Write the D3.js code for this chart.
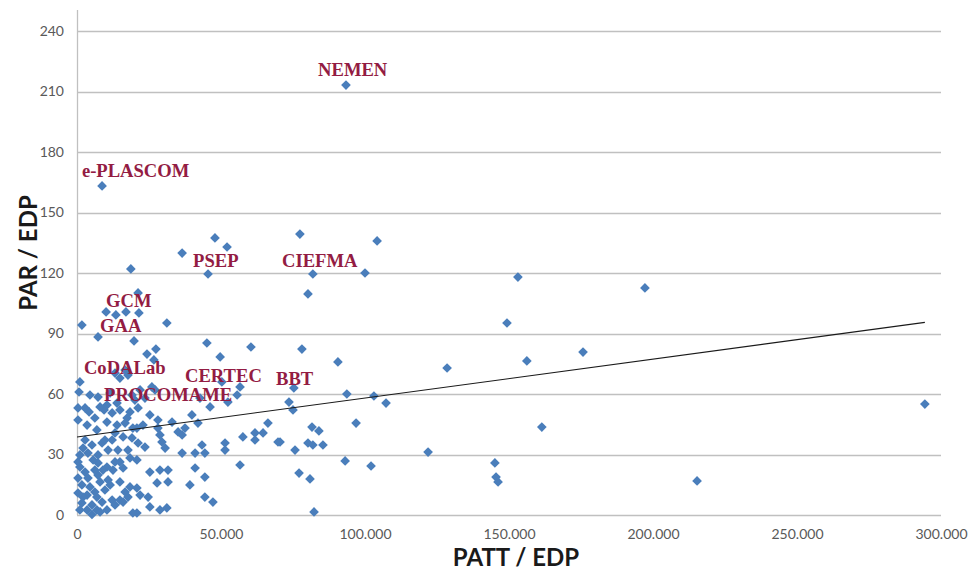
<!DOCTYPE html>
<html>
<head>
<meta charset="utf-8">
<script src="https://cdn.jsdelivr.net/npm/d3@7"></script>
<style>
  html, body { margin: 0; padding: 0; background: #ffffff; }
  svg { display: block; }
</style>
</head>
<body>
<svg id="chart" width="969" height="573"></svg>
<script>
// ---------- DATA ----------
const xTicks = [0, 50000, 100000, 150000, 200000, 250000, 300000];
const yTicks = [0, 30, 60, 90, 120, 150, 180, 210, 240];
const xTitle = "PATT / EDP";
const yTitle = "PAR / EDP";

// PATT / EDP values of each point
const pattValues = [
  93400, 8700, 36500, 47900, 52100, 45500, 18700, 77400, 104200, 81900, 100000, 80200,
  153100, 197200, 149300, 175700, 156200, 128500, 90600, 78100, 60400, 49700, 45100, 31200,
  1700, 7300, 10100, 13500, 17000, 21500, 21200, 19800, 24300, 27400, 26700, 294400,
  161400, 215300, 121900,
  75300, 73600, 75000, 93700, 103100, 107300, 96900, 81600, 84000, 80200, 81900, 85400,
  70500, 75700, 93100, 102100, 77100, 80900, 145100, 145500, 146200, 82300,
  50300, 56600, 55600, 46200, 52400, 42700, 66300, 57600, 61800, 64600, 69800, 61800,
  51400, 51400, 56600, 47200,
  21200, 25300, 28100, 33000, 39900, 42000, 20800, 28100, 35100, 37500, 36500, 21200,
  23600, 28800, 29500, 30600, 36500, 41000, 43400, 44400, 20800, 25300, 28800, 31600,
  41000, 27800, 31600, 39200, 44400, 20800, 21900, 24700, 44400, 25300, 28800, 31200, 20800,
  4200, 350, 9400, 12200, 14900, 18400, 10400, 13900, 16700, 19400, 3500, 6900,
  2800, 5200, 8700, 12200, 16000, 19100, 3800, 7300, 10800, 14200, 18400, 13200,
  1000, 2800, 7300, 10400, 12500, 16000, 350, 3800, 7300, 10800, 14900, 18400,
  1700, 4500, 9700, 16700, 350, 3500, 6900, 12200, 14900, 1700, 5200, 8700,
  16000, 3500, 6900, 10400, 19400, 5200,
  1000, 700, 4500, 7300, 14900, 16700, 13200, 17700, 10400, 13900, 21900, 23600,
  26000, 19100, 27100, 350,
  1000, 350, 2100, 6200, 8000, 2100, 6200, 1000, 8000, 13200, 17700, 11500,
  5600, 9000, 14900, 17700, 6200, 13200, 9700, 17400, 20100, 11500, 8000, 2800, 22900
];
// PAR / EDP values of each point (same order)
const parValues = [
  213.2, 163.2, 129.9, 137.4, 132.9, 119.5, 122.0, 139.3, 135.9, 119.5, 120.0, 109.6,
  118.0, 112.6, 95.2, 80.8, 76.4, 72.9, 75.9, 82.3, 83.3, 78.4, 85.3, 95.2,
  94.2, 88.3, 100.7, 99.2, 100.7, 100.2, 110.1, 86.3, 79.8, 82.3, 76.9, 55.0,
  43.6, 16.9, 31.2,
  63.0, 56.0, 52.1, 60.0, 59.0, 55.5, 45.6, 43.6, 41.7, 35.7, 34.7, 34.7,
  36.2, 32.2, 26.8, 24.3, 20.8, 17.9, 25.8, 18.8, 16.4, 1.5,
  66.0, 63.5, 59.5, 53.6, 56.0, 58.0, 45.6, 38.7, 40.7, 40.7, 36.2, 37.2,
  35.7, 32.2, 24.8, 6.4,
  53.1, 49.6, 47.1, 46.1, 49.6, 45.6, 43.1, 43.1, 41.2, 43.1, 39.7, 35.7,
  33.7, 39.7, 36.2, 33.2, 30.7, 30.7, 34.7, 30.7, 27.3, 21.3, 22.3, 22.3,
  23.3, 15.9, 16.4, 14.9, 18.8, 13.4, 9.9, 8.9, 8.9, 4.0, 2.5, 3.5, 1.0,
  51.1, 47.1, 52.1, 50.6, 52.1, 51.1, 46.1, 44.6, 45.6, 43.1, 44.6, 42.2,
  37.2, 34.7, 35.7, 37.2, 38.7, 38.2, 30.7, 29.8, 32.2, 32.2, 28.3, 26.3,
  23.8, 21.3, 25.8, 23.8, 22.3, 23.3, 18.3, 18.3, 19.8, 17.4, 16.4, 13.9,
  14.9, 13.9, 12.4, 11.4, 10.9, 9.9, 8.9, 7.4, 7.4, 6.0, 5.0, 6.4,
  6.4, 2.5, 2.5, 2.5, 1.0, 0.3,
  66.0, 61.0, 59.5, 58.5, 67.9, 71.9, 70.4, 69.4, 54.5, 55.5, 62.0, 58.0,
  63.5, 59.5, 62.0, 53.1,
  29.8, 26.3, 33.2, 22.3, 16.4, 8.9, 11.4, 2.5, 1.5, 5.0, 8.9, 14.9,
  27.3, 22.3, 26.3, 32.2, 48.1, 40.7, 37.2, 48.1, 57.0, 60.5, 53.6, 53.1, 44.6
];

// Linear trend line: PAR = intercept + slope * PATT
const trendIntercept = 38.7;
const trendSlope = 0.000193;
const trendEndX = 294400;

// Group labels, anchored in data units (text start, baseline)
const labelNames = ["NEMEN", "e-PLASCOM", "PSEP", "CIEFMA", "GCM", "GAA", "CoDALab", "CERTEC", "PROCOMAME", "BBT"];
const labelX = [83700, 1700, 40300, 71200, 10100, 8000, 2400, 37500, 9400, 69100];
const labelY = [217.6, 167.6, 123.0, 122.8, 103.1, 90.5, 70.1, 65.8, 56.6, 64.5];

// ---------- CHART ----------
const svg = d3.select("#chart");
const plot = { left: 77, right: 941, top: 31, bottom: 515 };

const x = d3.scaleLinear().domain([0, 300000]).range([plot.left, plot.right]);
const y = d3.scaleLinear().domain([0, 240]).range([plot.bottom, plot.top]);

const locale = d3.formatLocale({ decimal: ",", thousands: ".", grouping: [3], currency: ["", ""] });
const fmtX = locale.format(",d");

const gridColor = "#c0c0c0";
const tickFont = "Lato, 'Open Sans', sans-serif";

// horizontal gridlines
svg.append("g")
  .selectAll("line")
  .data(yTicks)
  .join("line")
  .attr("x1", plot.left)
  .attr("x2", plot.right)
  .attr("y1", d => Math.round(y(d)) + 0.5)
  .attr("y2", d => Math.round(y(d)) + 0.5)
  .attr("stroke", gridColor)
  .attr("stroke-width", 1.3);

// left axis line
svg.append("line")
  .attr("x1", plot.left + 0.5).attr("x2", plot.left + 0.5)
  .attr("y1", 10).attr("y2", plot.bottom)
  .attr("stroke", gridColor).attr("stroke-width", 1.3);

// Y axis tick labels
const yAxis = d3.axisLeft(y).tickValues(yTicks).tickSize(0).tickPadding(13).tickFormat(d3.format("d"));
const gy = svg.append("g").attr("transform", `translate(${plot.left},0)`).call(yAxis);
gy.select(".domain").remove();
gy.selectAll("text")
  .attr("fill", "#595959")
  .style("font-family", tickFont)
  .style("font-size", "14px");

// X axis tick labels
const xAxis = d3.axisBottom(x).tickValues(xTicks).tickSize(0).tickPadding(14).tickFormat(fmtX);
const gx = svg.append("g").attr("transform", `translate(0,${plot.bottom})`).call(xAxis);
gx.select(".domain").remove();
gx.selectAll("text")
  .attr("fill", "#595959")
  .style("font-family", tickFont)
  .style("font-size", "14px");

// points (diamonds)
const pts = pattValues.map((v, i) => ({ x: v, y: parValues[i] }));
const diamond = d3.symbol().type(d3.symbolDiamond2).size(60);
svg.append("g")
  .selectAll("path")
  .data(pts)
  .join("path")
  .attr("d", diamond)
  .attr("transform", d => `translate(${x(d.x)},${y(d.y)})`)
  .attr("fill", "#4a7ebb");

// trend line
svg.append("line")
  .attr("x1", x(0))
  .attr("y1", y(trendIntercept))
  .attr("x2", x(trendEndX))
  .attr("y2", y(trendIntercept + trendSlope * trendEndX))
  .attr("stroke", "#1a1a1a")
  .attr("stroke-width", 1.1);

// group labels
svg.append("g")
  .selectAll("text")
  .data(labelNames)
  .join("text")
  .attr("x", (d, i) => x(labelX[i]))
  .attr("y", (d, i) => y(labelY[i]))
  .text(d => d)
  .attr("fill", "#931c43")
  .style("font-family", "'Liberation Serif', 'Times New Roman', serif")
  .style("font-weight", "bold")
  .style("font-size", "18.6px");

// axis titles
svg.append("text")
  .attr("x", 516)
  .attr("y", 566)
  .attr("text-anchor", "middle")
  .text(xTitle)
  .attr("fill", "#1a1a1a")
  .style("font-family", tickFont)
  .style("font-weight", "bold")
  .style("font-size", "24px");

svg.append("text")
  .attr("transform", `translate(37,${253}) rotate(-90)`)
  .attr("text-anchor", "middle")
  .text(yTitle)
  .attr("fill", "#1a1a1a")
  .style("font-family", tickFont)
  .style("font-weight", "bold")
  .style("font-size", "24px");
</script>
</body>
</html>
